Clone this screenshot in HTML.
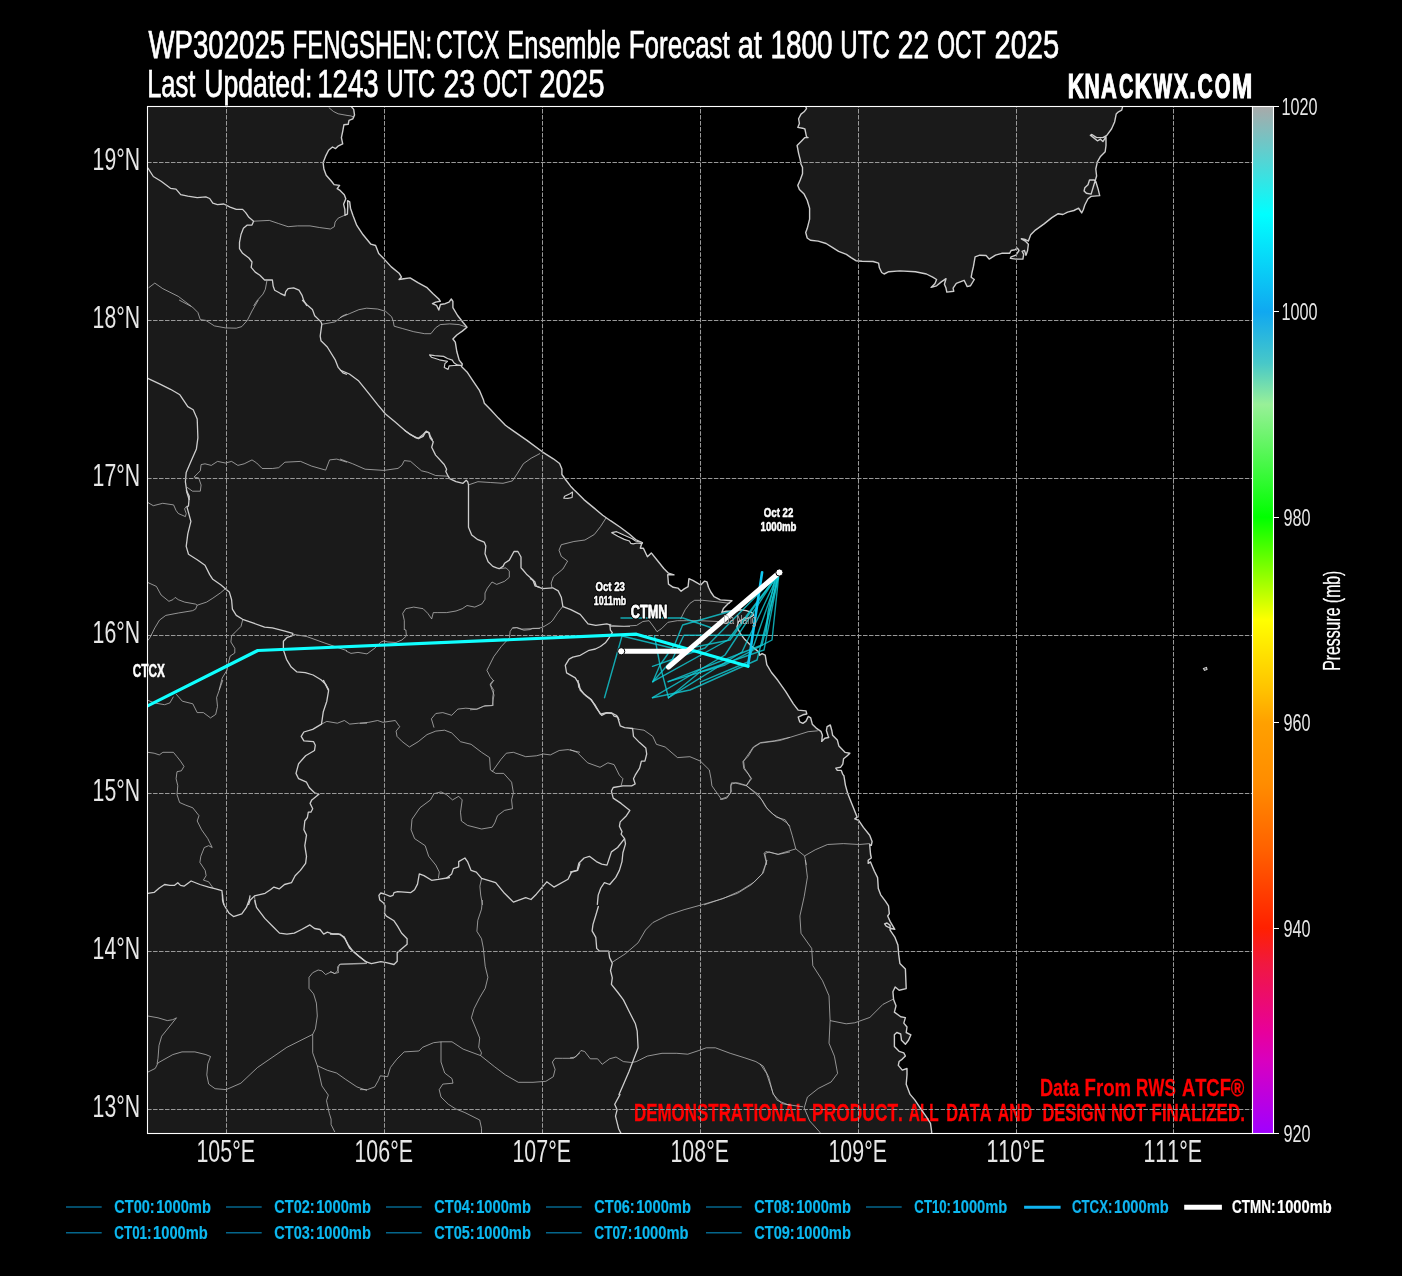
<!DOCTYPE html><html><head><meta charset="utf-8"><style>html,body{margin:0;padding:0;background:#000;width:1402px;height:1276px;overflow:hidden}</style></head><body><svg width="1402" height="1276" viewBox="0 0 1402 1276" style="position:absolute;left:0;top:0;will-change:transform">
<defs><clipPath id="mc"><rect x="147.5" y="106.5" width="1105.0" height="1027.0"/></clipPath>
<linearGradient id="cb" x1="0" y1="0" x2="0" y2="1"><stop offset="0.000" stop-color="#a9a9a9"/><stop offset="0.105" stop-color="#00ffff"/><stop offset="0.200" stop-color="#10a8f0"/><stop offset="0.250" stop-color="#48c8c8"/><stop offset="0.290" stop-color="#98f098"/><stop offset="0.400" stop-color="#00ff00"/><stop offset="0.500" stop-color="#ffff00"/><stop offset="0.570" stop-color="#ffc000"/><stop offset="0.600" stop-color="#ffa000"/><stop offset="0.660" stop-color="#ff8c00"/><stop offset="0.725" stop-color="#ff6000"/><stop offset="0.800" stop-color="#ff2000"/><stop offset="0.835" stop-color="#f01840"/><stop offset="0.900" stop-color="#e8009a"/><stop offset="0.930" stop-color="#d800c0"/><stop offset="1.000" stop-color="#a000ff"/></linearGradient></defs>
<rect x="0" y="0" width="1402" height="1276" fill="#000"/>
<g clip-path="url(#mc)">
<polygon points="140.0,100.0 351.3,100.0 351.3,106.6 353.7,109.4 354.5,114.9 352.9,118.8 349.0,120.4 348.2,124.3 343.9,124.8 342.7,131.3 341.4,137.6 342.7,143.9 338.0,146.2 335.6,148.6 332.5,147.0 328.6,150.2 325.5,156.4 323.1,162.7 323.9,169.0 326.2,175.2 331.7,181.5 334.1,184.6 339.6,185.4 337.2,188.6 339.6,190.1 344.3,194.8 345.8,198.7 343.6,204.2 344.9,209.7 345.0,215.2 347.4,214.1 347.7,206.6 347.6,200.6 349.7,201.9 350.5,208.2 352.9,215.2 356.8,225.4 363.1,234.8 370.9,244.2 375.6,245.5 378.7,253.6 384.2,259.1 391.3,266.9 399.1,273.2 401.5,277.1 399.1,279.5 403.8,278.7 410.1,277.9 417.9,282.6 426.6,287.3 432.8,293.6 438.8,299.0 440.4,301.3 435.7,302.1 432.5,303.7 436.5,305.3 438.8,310.0 440.4,304.5 445.1,303.7 449.0,302.1 451.3,299.0 452.9,301.3 452.9,307.6 457.6,315.5 463.1,322.5 467.0,327.2 462.3,331.1 456.8,335.0 452.9,339.0 455.3,342.1 456.8,351.5 459.2,360.1 462.3,364.0 461.5,366.4 467.0,371.9 473.3,381.3 479.6,390.7 483.5,400.1 484.3,403.2 490.5,409.5 498.4,418.1 505.4,425.2 514.0,431.4 526.6,440.1 542.3,451.8 553.3,458.8 559.6,463.5 561.9,469.0 561.9,474.5 565.9,480.0 570.6,486.2 573.7,489.4 576.1,491.7 583.9,499.6 593.3,507.4 602.7,515.2 610.5,520.7 619.9,527.0 629.3,534.0 635.6,539.5 641.9,542.7 640.3,548.2 643.4,548.2 647.4,556.8 651.3,552.9 657.6,560.7 663.8,568.5 668.5,573.2 674.0,574.8 667.7,574.8 668.5,584.2 673.2,587.3 677.9,588.1 681.1,591.3 684.2,588.9 688.1,586.6 688.9,578.7 692.8,580.3 696.7,582.6 700.7,585.0 704.6,581.1 706.9,581.8 708.5,587.3 710.8,592.0 714.0,596.7 720.3,599.9 732.0,600.7 728.1,603.8 723.4,608.5 721.8,612.4 726.1,611.3 735.5,611.3 740.2,609.8 746.4,610.6 752.7,612.9 753.5,615.3 749.6,617.6 743.3,619.2 738.6,621.5 737.0,627.0 740.2,633.3 744.9,639.6 751.1,645.8 759.0,652.1 759.7,655.2 762.1,653.7 765.2,655.2 766.8,664.6 771.5,672.5 777.8,680.3 785.6,691.3 793.4,703.8 798.2,710.1 806.0,710.9 806.8,714.0 802.9,714.8 798.2,717.1 799.7,721.8 802.9,723.4 806.0,721.1 808.3,716.4 810.7,717.9 812.3,724.2 816.2,728.1 820.9,731.3 822.4,735.2 821.7,741.4 824.8,738.3 828.7,737.5 827.9,735.2 826.4,730.5 827.1,726.6 830.3,725.0 831.8,730.5 832.6,735.2 837.3,739.9 838.9,746.1 842.8,750.1 845.2,752.4 849.9,753.2 846.7,756.3 843.6,758.7 842.8,764.2 840.5,767.3 835.8,768.1 837.3,770.4 841.3,770.4 842.8,774.4 843.9,775.7 845.4,785.1 847.8,793.7 852.5,805.5 857.2,817.2 854.8,818.8 858.7,820.3 863.4,827.4 869.7,835.2 872.1,841.5 871.3,845.4 869.7,844.6 870.5,854.0 871.3,858.0 868.2,860.3 868.2,863.4 870.5,861.9 874.4,871.3 877.6,877.6 878.3,888.5 880.7,894.8 885.4,901.1 888.5,905.8 889.3,913.6 887.7,916.0 890.1,921.4 894.8,929.3 890.9,928.5 886.2,926.1 884.6,923.8 887.0,923.0 890.1,925.4 890.1,930.1 894.8,937.1 897.9,945.0 898.7,954.4 899.9,963.5 905.4,969.0 906.2,988.6 899.1,990.2 895.2,987.0 892.9,991.7 893.6,999.6 896.0,1005.8 894.4,1012.1 900.7,1016.8 905.4,1017.6 903.8,1023.1 907.0,1027.0 906.2,1032.5 910.9,1034.8 908.5,1040.3 905.4,1044.2 901.5,1040.3 900.7,1034.0 896.8,1032.5 894.4,1034.8 894.4,1041.9 894.4,1046.6 899.1,1051.3 903.8,1052.9 905.4,1056.0 902.3,1059.1 899.1,1061.5 898.3,1065.4 902.3,1070.1 907.0,1068.5 907.0,1074.8 906.2,1084.2 910.1,1094.4 914.8,1099.9 921.1,1109.3 926.6,1117.1 930.5,1123.4 931.7,1132.0 931.4,1134.4 931.4,1140.0 140.0,1140.0" fill="#1a1a1a"/>
<polygon points="805.7,104.7 805.7,106.6 806.5,108.6 804.1,111.8 801.0,114.1 798.6,118.8 799.4,123.5 797.8,127.4 802.5,128.2 804.9,129.0 805.7,132.9 806.5,136.8 808.0,137.6 804.9,137.6 801.8,140.8 797.1,145.5 798.6,153.3 800.2,159.6 801.0,164.3 802.5,167.4 802.5,173.7 800.2,180.0 797.8,185.4 799.4,189.4 804.1,194.1 807.2,200.3 809.6,208.2 809.6,219.2 807.2,228.6 805.7,232.5 807.2,238.0 810.4,240.3 818.2,241.1 826.1,243.5 832.3,247.4 838.6,251.3 846.4,254.4 851.1,257.6 855.9,260.7 862.1,261.2 873.1,261.5 878.6,263.1 879.4,267.8 881.7,272.5 884.1,274.0 888.8,271.7 899.8,270.9 915.4,271.7 926.4,274.0 932.7,277.2 936.6,279.5 935.0,283.4 931.1,287.4 936.6,285.8 941.3,281.9 946.0,278.7 944.4,284.2 946.0,288.1 946.8,292.1 953.8,291.3 953.1,288.1 956.3,283.4 964.1,280.3 967.2,286.6 970.4,285.8 974.3,279.5 971.2,277.2 972.0,272.5 973.5,266.2 975.1,256.8 979.8,255.2 986.1,255.5 989.2,259.1 995.5,255.2 1001.7,253.3 1009.6,253.3 1011.1,250.5 1015.1,249.7 1017.4,248.2 1019.0,250.5 1015.9,255.2 1011.1,256.8 1010.4,258.4 1015.9,259.1 1022.9,259.1 1023.7,254.4 1022.1,251.3 1024.5,250.5 1026.0,255.2 1027.6,250.5 1028.4,244.2 1025.3,241.1 1021.3,238.8 1025.3,239.5 1028.4,241.1 1030.7,234.8 1035.4,230.1 1044.1,223.9 1051.9,217.6 1058.2,213.7 1062.9,214.5 1067.6,212.1 1073.9,210.5 1078.6,208.2 1080.1,210.5 1081.7,212.9 1083.3,209.8 1084.8,205.0 1088.0,198.8 1091.1,196.4 1099.7,195.6 1098.2,189.4 1095.8,181.5 1094.2,180.0 1089.5,180.0 1088.0,184.7 1084.8,187.8 1084.1,190.9 1086.4,193.3 1091.1,194.1 1096.6,176.0 1095.8,169.0 1097.4,161.9 1100.5,156.4 1105.2,151.7 1106.0,145.5 1106.0,136.8 1102.9,141.5 1100.5,139.2 1097.4,140.8 1093.5,137.6 1090.3,135.3 1091.9,134.5 1096.6,137.6 1102.9,137.6 1106.8,135.3 1111.5,129.0 1114.6,122.0 1116.2,114.1 1118.5,111.8 1121.7,110.2 1122.5,107.1 1122.5,104.7" fill="#1a1a1a"/>
</g>
<text x="1040.04" y="1095.55" textLength="39.19" lengthAdjust="spacingAndGlyphs" style='font-family:"Liberation Sans",sans-serif;font-kerning:none;font-weight:bold;font-size:24.42px' fill="#ff0000" stroke="#ff0000" stroke-width="0.30">Data</text>
<text x="1084.50" y="1095.55" textLength="46.60" lengthAdjust="spacingAndGlyphs" style='font-family:"Liberation Sans",sans-serif;font-kerning:none;font-weight:bold;font-size:24.42px' fill="#ff0000" stroke="#ff0000" stroke-width="0.30">From</text>
<text x="1136.01" y="1095.55" textLength="39.81" lengthAdjust="spacingAndGlyphs" style='font-family:"Liberation Sans",sans-serif;font-kerning:none;font-weight:bold;font-size:24.42px' fill="#ff0000" stroke="#ff0000" stroke-width="0.30">RWS</text>
<text x="1181.89" y="1095.55" textLength="62.54" lengthAdjust="spacingAndGlyphs" style='font-family:"Liberation Sans",sans-serif;font-kerning:none;font-weight:bold;font-size:24.42px' fill="#ff0000" stroke="#ff0000" stroke-width="0.30">ATCF®</text>
<text x="633.92" y="1121.25" textLength="172.25" lengthAdjust="spacingAndGlyphs" style='font-family:"Liberation Sans",sans-serif;font-kerning:none;font-weight:bold;font-size:24.42px' fill="#ff0000" stroke="#ff0000" stroke-width="0.30">DEMONSTRATIONAL</text>
<text x="812.09" y="1121.25" textLength="90.86" lengthAdjust="spacingAndGlyphs" style='font-family:"Liberation Sans",sans-serif;font-kerning:none;font-weight:bold;font-size:24.42px' fill="#ff0000" stroke="#ff0000" stroke-width="0.30">PRODUCT.</text>
<text x="908.77" y="1121.25" textLength="29.96" lengthAdjust="spacingAndGlyphs" style='font-family:"Liberation Sans",sans-serif;font-kerning:none;font-weight:bold;font-size:24.42px' fill="#ff0000" stroke="#ff0000" stroke-width="0.30">ALL</text>
<text x="946.16" y="1121.25" textLength="45.32" lengthAdjust="spacingAndGlyphs" style='font-family:"Liberation Sans",sans-serif;font-kerning:none;font-weight:bold;font-size:24.42px' fill="#ff0000" stroke="#ff0000" stroke-width="0.30">DATA</text>
<text x="997.76" y="1121.25" textLength="34.36" lengthAdjust="spacingAndGlyphs" style='font-family:"Liberation Sans",sans-serif;font-kerning:none;font-weight:bold;font-size:24.42px' fill="#ff0000" stroke="#ff0000" stroke-width="0.30">AND</text>
<text x="1042.45" y="1121.25" textLength="63.11" lengthAdjust="spacingAndGlyphs" style='font-family:"Liberation Sans",sans-serif;font-kerning:none;font-weight:bold;font-size:24.42px' fill="#ff0000" stroke="#ff0000" stroke-width="0.30">DESIGN</text>
<text x="1110.95" y="1121.25" textLength="34.78" lengthAdjust="spacingAndGlyphs" style='font-family:"Liberation Sans",sans-serif;font-kerning:none;font-weight:bold;font-size:24.42px' fill="#ff0000" stroke="#ff0000" stroke-width="0.30">NOT</text>
<text x="1151.51" y="1121.25" textLength="93.41" lengthAdjust="spacingAndGlyphs" style='font-family:"Liberation Sans",sans-serif;font-kerning:none;font-weight:bold;font-size:24.42px' fill="#ff0000" stroke="#ff0000" stroke-width="0.30">FINALIZED.</text>
<g clip-path="url(#mc)">
<polyline points="253.6,221.2 269.3,220.4 278.7,223.6 288.1,226.7 297.5,225.9 310.0,225.9 319.4,227.5 330.4,229.0 334.3,226.7 335.1,222.0 338.2,218.1 343.7,215.7 346.1,214.9" fill="none" stroke="#c8c8c8" stroke-width="0.7" stroke-linejoin="round"/>
<polyline points="328.8,107.6 333.5,111.5 338.2,113.8 347.0,115.4 350.8,115.9 354.2,117.1" fill="none" stroke="#c8c8c8" stroke-width="0.7" stroke-linejoin="round"/>
<polyline points="148.6,287.8 154.8,283.1 162.7,288.6 178.3,296.4 190.9,306.0" fill="none" stroke="#c8c8c8" stroke-width="0.7" stroke-linejoin="round"/>
<polyline points="266.9,280.8 265.3,289.4 263.0,294.1 256.7,301.1 253.6,306.0" fill="none" stroke="#c8c8c8" stroke-width="0.7" stroke-linejoin="round"/>
<polyline points="179.1,300.0 192.5,307.1 197.9,312.5 200.3,319.6 205.8,320.4 214.4,325.9 225.4,327.9 236.3,328.2 241.8,326.6 247.3,320.4 252.0,311.0 258.3,300.0" fill="none" stroke="#c8c8c8" stroke-width="0.7" stroke-linejoin="round"/>
<polyline points="321.8,324.3 335.1,321.9 342.9,315.7 347.0,314.1" fill="none" stroke="#c8c8c8" stroke-width="0.7" stroke-linejoin="round"/>
<polyline points="187.0,487.3 192.5,491.2 200.3,491.2 201.1,485.0 198.7,477.9 194.0,477.1 200.3,470.8 201.1,464.6 205.0,463.8 211.3,465.4 217.5,461.4 225.4,463.0 231.6,461.4 237.9,465.4 244.2,463.8 252.0,459.9 256.7,463.0 262.2,468.5 272.4,468.5 278.7,467.7 284.9,462.2 300.6,461.4 311.6,466.1 325.7,470.1 329.6,459.9 336.7,459.1 347.0,462.2" fill="none" stroke="#c8c8c8" stroke-width="0.7" stroke-linejoin="round"/>
<polyline points="340.0,317.6 349.4,313.7 358.8,309.7 366.6,308.2 377.6,309.0 385.5,311.3 391.7,316.8 393.3,321.5 394.1,326.2 402.7,328.6 413.7,331.7 424.6,333.7 430.9,333.7 435.6,327.8 440.3,324.6 449.7,323.9 459.1,324.6 466.2,327.0" fill="none" stroke="#c8c8c8" stroke-width="0.7" stroke-linejoin="round"/>
<polyline points="225.4,588.7 220.7,592.7 212.8,598.2 206.6,602.1 197.2,605.2 195.6,609.1 192.5,610.7 178.3,613.0 165.8,615.4 159.5,620.1 154.8,627.9 150.1,637.3 147.8,640.5" fill="none" stroke="#c8c8c8" stroke-width="0.7" stroke-linejoin="round"/>
<polyline points="147.8,582.5 156.4,586.4 161.1,595.0 168.9,601.3 172.9,599.7 175.2,597.4 178.3,599.7 184.6,602.1 195.6,604.1 197.2,605.2" fill="none" stroke="#c8c8c8" stroke-width="0.7" stroke-linejoin="round"/>
<polyline points="147.8,502.5 153.3,505.7 162.7,503.3 173.6,504.9 176.0,510.4 178.3,513.5 185.4,516.6 186.2,513.5 184.6,508.8 187.0,505.7" fill="none" stroke="#c8c8c8" stroke-width="0.7" stroke-linejoin="round"/>
<polyline points="242.6,620.1 241.0,626.4 236.3,631.1 231.6,635.8 230.9,642.0 234.8,648.3 234.8,653.0 230.1,656.1 228.5,662.4 226.9,670.3 222.2,678.1 219.1,690.0" fill="none" stroke="#c8c8c8" stroke-width="0.7" stroke-linejoin="round"/>
<polyline points="292.8,634.2 306.9,636.6 324.1,642.8 347.0,650.7" fill="none" stroke="#c8c8c8" stroke-width="0.7" stroke-linejoin="round"/>
<polyline points="340.0,459.0 352.5,463.7 365.1,469.2 383.9,470.4 398.0,468.4 401.9,465.3 404.3,460.6 410.5,461.3 416.8,466.8 421.5,470.8 427.8,472.3 435.6,475.5 448.2,476.2" fill="none" stroke="#c8c8c8" stroke-width="0.7" stroke-linejoin="round"/>
<polyline points="468.5,484.9 477.9,481.7 490.5,482.5 503.0,483.3 512.4,480.9 517.1,473.9 523.4,463.7 531.2,458.2 540.0,453.5" fill="none" stroke="#c8c8c8" stroke-width="0.7" stroke-linejoin="round"/>
<polyline points="499.1,568.7 506.1,567.9 509.3,571.1 509.3,577.3 504.6,581.3 496.7,584.4 492.0,582.0 487.3,588.3 485.0,593.0 485.0,599.3 481.8,604.0 474.8,607.1 467.0,605.5 462.3,608.7 456.0,611.0 446.6,612.6 437.2,612.6 433.3,612.6 431.7,618.9 427.8,613.4 423.1,608.7 413.7,607.1 405.8,608.7 402.7,613.4 404.3,620.4 404.3,630.0" fill="none" stroke="#c8c8c8" stroke-width="0.7" stroke-linejoin="round"/>
<polyline points="512.4,628.3 517.1,627.5 521.8,629.1 540.0,628.3" fill="none" stroke="#c8c8c8" stroke-width="0.7" stroke-linejoin="round"/>
<polyline points="606.0,518.0 600.5,526.6 594.3,534.5 584.9,540.0 573.9,541.5 561.3,544.7 559.0,550.2 561.3,556.4 567.6,561.1 562.9,569.0 553.5,576.8 551.2,583.1 551.9,587.8" fill="none" stroke="#c8c8c8" stroke-width="0.7" stroke-linejoin="round"/>
<polyline points="611.5,625.4 624.0,626.2 636.6,625.4 642.9,621.5 649.1,620.7 653.8,627.0 657.0,631.7 661.7,628.5 667.9,622.3 677.3,620.7 686.7,620.7 700.1,620.7 718.1,621.5 730.0,622.3" fill="none" stroke="#c8c8c8" stroke-width="0.7" stroke-linejoin="round"/>
<polyline points="680.5,619.1 685.2,609.7 689.9,603.4 694.6,600.3 702.4,600.3 718.1,601.9 730.0,603.4" fill="none" stroke="#c8c8c8" stroke-width="0.7" stroke-linejoin="round"/>
<polyline points="254.5,895.9 255.4,904.9" fill="none" stroke="#c8c8c8" stroke-width="0.7" stroke-linejoin="round"/>
<polyline points="321.5,724.1 326.8,721.4 337.4,723.2 344.4,720.5 349.7,724.1 358.5,723.2 367.0,723.2" fill="none" stroke="#c8c8c8" stroke-width="0.7" stroke-linejoin="round"/>
<polyline points="147.9,752.3 154.1,753.2 159.3,754.9 162.9,752.3 173.4,752.3 177.0,756.7 180.5,761.1 184.0,766.4 181.4,770.8 177.0,771.7 176.1,778.7 177.8,785.8 177.0,794.6 179.6,802.5 185.8,805.2 192.8,807.8 199.0,815.7 197.2,821.0 201.6,829.8 207.8,838.6 212.2,847.5 208.7,845.7 204.3,847.5 200.8,856.3 199.9,862.4 205.2,870.4 206.1,875.7 203.4,880.1 208.7,881.8 213.1,888.0" fill="none" stroke="#c8c8c8" stroke-width="0.7" stroke-linejoin="round"/>
<polyline points="147.9,700.3 154.1,702.9 164.6,704.7 169.9,702.9 173.4,696.7" fill="none" stroke="#c8c8c8" stroke-width="0.7" stroke-linejoin="round"/>
<polyline points="176.1,694.1 182.3,701.2 192.8,703.8 197.2,712.6 203.4,712.6 210.5,717.9 215.7,714.4 217.5,706.4 216.6,697.6 221.0,685.3 222.8,680.0" fill="none" stroke="#c8c8c8" stroke-width="0.7" stroke-linejoin="round"/>
<polyline points="360.0,723.2 368.8,722.3 377.6,720.5 382.9,722.3 395.3,720.5 399.7,726.7 396.1,731.1 397.0,736.4 402.3,741.7 409.4,747.0 418.2,741.7 427.0,734.6 435.8,731.1 444.6,730.2 451.7,732.9 460.5,741.7 471.1,744.3 481.6,752.3 489.6,757.6 490.4,769.9 495.7,773.4 503.7,773.4 511.6,782.2 513.4,792.8 511.6,799.9 512.5,808.7 504.5,810.4 497.5,815.7 494.8,822.8 492.2,827.2 481.6,829.0 467.5,825.4 461.4,821.0 460.5,812.2 462.2,799.9 458.7,796.3 452.5,799.9 446.4,794.6 441.1,791.9 434.0,793.7 430.5,799.9 419.9,807.8 412.0,819.3 411.1,829.8 414.6,838.6 425.2,845.7 428.7,856.3 435.8,865.1 439.3,872.1 438.4,878.3" fill="none" stroke="#c8c8c8" stroke-width="0.7" stroke-linejoin="round"/>
<polyline points="434.0,727.6 431.4,718.8 435.8,713.5 442.8,712.6 451.7,715.3 457.8,709.1 465.8,708.2 476.3,709.1 483.4,706.4 492.2,705.6 494.0,695.0 490.4,685.3 494.0,680.0" fill="none" stroke="#c8c8c8" stroke-width="0.7" stroke-linejoin="round"/>
<polyline points="492.2,771.7 501.0,759.3 506.3,753.2 513.4,752.3 525.7,756.7 536.3,755.8 543.3,754.0 550.4,754.9 559.2,750.5 568.0,749.6 580.0,752.3" fill="none" stroke="#c8c8c8" stroke-width="0.7" stroke-linejoin="round"/>
<polyline points="481.6,878.3 479.9,886.2 480.7,895.1 482.5,904.9" fill="none" stroke="#c8c8c8" stroke-width="0.7" stroke-linejoin="round"/>
<polyline points="570.0,749.6 577.1,752.3 587.6,762.8 600.0,767.3 607.9,762.8 614.1,764.6 619.4,775.2 622.9,778.7 621.1,785.8" fill="none" stroke="#c8c8c8" stroke-width="0.7" stroke-linejoin="round"/>
<polyline points="632.6,728.5 644.0,730.2 652.8,736.4 656.4,744.3 665.2,747.0 677.5,757.6 689.9,756.7 700.4,761.1 709.3,769.9 711.0,778.7 711.9,785.8 718.1,794.6 721.6,799.5 726.9,798.1 730.4,792.8 731.3,784.0 735.7,783.1 746.3,785.8 751.6,778.7 744.5,768.1 743.6,761.1 753.3,747.0 760.4,742.6 774.5,740.8 790.0,737.3" fill="none" stroke="#c8c8c8" stroke-width="0.7" stroke-linejoin="round"/>
<polyline points="746.3,785.8 758.6,794.6 765.7,806.9 772.7,814.0 781.5,819.3 786.8,822.8 790.0,826.3" fill="none" stroke="#c8c8c8" stroke-width="0.7" stroke-linejoin="round"/>
<polyline points="704.0,904.9 719.8,899.5 737.5,893.3 751.6,884.5 762.1,873.9 766.5,861.6 764.8,853.6 769.2,851.9 778.0,854.5 790.0,851.9" fill="none" stroke="#c8c8c8" stroke-width="0.7" stroke-linejoin="round"/>
<polyline points="817.8,730.8 808.1,731.7 794.0,736.1 779.9,740.5 760.5,743.1 753.5,747.5 748.2,756.3 742.9,761.6 743.8,768.7 748.2,774.0 750.8,778.4 746.4,785.4 737.6,782.8 731.5,782.8 730.6,786.3 731.5,791.6 727.1,796.9 720.0,799.5" fill="none" stroke="#c8c8c8" stroke-width="0.7" stroke-linejoin="round"/>
<polyline points="746.4,785.4 755.3,793.4 762.3,800.4 767.6,809.2 776.4,817.2 785.2,819.8 789.6,826.8 792.3,835.7 795.8,848.9 804.6,855.9 806.4,864.9" fill="none" stroke="#c8c8c8" stroke-width="0.7" stroke-linejoin="round"/>
<polyline points="795.8,848.9 778.2,854.2 765.8,851.5 764.1,853.3 766.7,864.9" fill="none" stroke="#c8c8c8" stroke-width="0.7" stroke-linejoin="round"/>
<polyline points="804.6,855.9 815.2,849.8 827.5,844.5 843.4,843.6 859.3,844.5 869.8,843.6" fill="none" stroke="#c8c8c8" stroke-width="0.7" stroke-linejoin="round"/>
<polyline points="367.0,963.5 353.2,964.1 339.4,964.4 337.5,970.9 334.8,973.6 331.1,971.8 325.6,974.6 321.9,970.9 318.2,970.0 312.7,972.7 309.0,977.3 309.0,988.4 313.6,993.9 316.4,1003.1 317.3,1016.0 315.4,1028.9 312.7,1034.4 312.7,1052.8 317.3,1065.7 321.9,1085.9 328.3,1095.1 326.5,1100.7 329.3,1113.5 331.1,1119.1 331.1,1124.6 334.8,1132.0" fill="none" stroke="#c8c8c8" stroke-width="0.7" stroke-linejoin="round"/>
<polyline points="312.7,1034.4 286.9,1047.3 257.5,1067.5 240.9,1083.2 226.2,1089.6 215.1,1088.7 208.7,1084.1 206.8,1074.9 207.8,1063.8 210.5,1056.5 205.9,1054.6 194.9,1051.9 182.0,1051.9 172.8,1054.6 158.0,1062.9 155.3,1068.4 147.9,1072.1" fill="none" stroke="#c8c8c8" stroke-width="0.7" stroke-linejoin="round"/>
<polyline points="147.9,1016.0 158.0,1017.8 167.3,1020.6 172.8,1019.7 176.5,1017.8 169.1,1027.0 161.7,1036.2 159.0,1045.4 158.0,1058.3 157.1,1063.8" fill="none" stroke="#c8c8c8" stroke-width="0.7" stroke-linejoin="round"/>
<polyline points="317.3,1065.7 327.4,1070.3 336.6,1073.0 345.8,1079.5 356.9,1086.9 367.0,1090.5" fill="none" stroke="#c8c8c8" stroke-width="0.7" stroke-linejoin="round"/>
<polyline points="365.7,963.1 340.3,964.0 337.5,966.9 338.5,972.5 334.7,973.5 330.0,971.6" fill="none" stroke="#c8c8c8" stroke-width="0.7" stroke-linejoin="round"/>
<polyline points="482.4,900.0 481.5,909.2 477.8,920.3 476.9,931.3 481.5,938.7 483.3,947.9 485.2,966.3 487.9,977.3 485.2,988.4 479.7,997.6 474.1,1008.6 471.4,1017.8 476.0,1028.9 479.7,1038.1 478.7,1047.3 481.5,1052.8 480.6,1055.6" fill="none" stroke="#c8c8c8" stroke-width="0.7" stroke-linejoin="round"/>
<polyline points="360.0,1089.6 367.4,1089.6 374.7,1086.9 378.4,1080.4 380.3,1075.8 387.6,1076.7 390.4,1067.5 396.8,1059.2 404.2,1051.9 418.9,1051.0 422.6,1047.3 433.6,1042.7 441.0,1041.8 452.0,1041.8 463.1,1049.1 480.6,1055.6 494.4,1066.6 505.4,1074.9 518.3,1082.3 533.0,1082.3 545.9,1081.3 553.3,1076.7 555.1,1069.4 552.4,1062.0 555.1,1058.3 562.5,1058.3 573.5,1058.3 580.0,1052.8" fill="none" stroke="#c8c8c8" stroke-width="0.7" stroke-linejoin="round"/>
<polyline points="441.0,1041.8 441.0,1062.0 444.7,1073.0 452.0,1078.6 453.0,1083.2 442.8,1084.1 439.2,1089.6 441.0,1097.0 448.4,1104.3 455.7,1108.9 464.9,1112.6 479.7,1120.0 481.5,1128.3 481.5,1134.9" fill="none" stroke="#c8c8c8" stroke-width="0.7" stroke-linejoin="round"/>
<polyline points="612.3,962.2 625.2,953.9 638.1,942.8 645.5,930.0 652.8,922.6 667.6,915.2 684.1,909.7 700.7,905.1 722.8,898.7 739.4,891.3 754.1,882.1 763.3,872.9 767.0,860.0" fill="none" stroke="#c8c8c8" stroke-width="0.7" stroke-linejoin="round"/>
<polyline points="570.0,1057.9 575.5,1057.0 581.0,1050.5 584.7,1051.5 590.3,1058.8 597.6,1058.8 602.2,1064.3 609.6,1058.8 616.0,1057.0 623.4,1061.6 631.7,1062.5 636.3,1061.6 647.3,1056.1 662.0,1053.3 676.8,1053.3 687.8,1054.2 698.9,1050.5 706.2,1047.8 715.4,1047.8 730.2,1053.3 744.9,1057.9 755.9,1061.6 763.3,1066.2 768.8,1077.2 773.4,1094.9" fill="none" stroke="#c8c8c8" stroke-width="0.7" stroke-linejoin="round"/>
<polyline points="773.7,1094.8 781.8,1103.6 790.0,1105.1" fill="none" stroke="#c8c8c8" stroke-width="0.7" stroke-linejoin="round"/>
<polyline points="805.3,860.0 807.4,877.2 804.2,896.6 799.9,916.0 801.0,933.3 811.7,948.4 812.8,965.6 822.5,980.7 829.0,995.8 830.1,1020.6 829.0,1043.2 834.4,1056.2 837.6,1073.4 831.1,1082.0 818.2,1088.5 807.4,1097.1 804.2,1107.9 809.6,1120.8 819.3,1131.6 822.5,1135.9" fill="none" stroke="#c8c8c8" stroke-width="0.7" stroke-linejoin="round"/>
<polyline points="830.1,1020.6 846.2,1023.8 854.8,1022.8 869.9,1017.4 882.9,1004.4 893.6,999.0" fill="none" stroke="#c8c8c8" stroke-width="0.7" stroke-linejoin="round"/>
<polyline points="760.0,1063.7 766.5,1073.4 772.9,1092.8 777.2,1100.4 788.0,1104.7 803.1,1106.8" fill="none" stroke="#c8c8c8" stroke-width="0.7" stroke-linejoin="round"/>
<polyline points="562.8,606.4 557.8,612.7 552.8,620.2 550.3,622.7 544.0,626.5 539.0,628.3 532.7,628.3 530.2,629.6 523.9,630.2 516.4,627.7 512.6,627.7 510.1,631.5 509.5,637.7 501.3,646.5 493.8,656.6 488.8,666.6 486.9,670.3 490.1,676.6 493.2,680.4 490.1,684.1 493.8,690.4 492.6,697.9 493.2,705.5 485.0,705.5 477.5,709.2 470.0,709.8" fill="none" stroke="#c8c8c8" stroke-width="0.7" stroke-linejoin="round"/>
<polyline points="610.4,626.5 630.0,626.5" fill="none" stroke="#c8c8c8" stroke-width="0.7" stroke-linejoin="round"/>
<polyline points="404.4,629.5 405.9,630.0 406.4,636.0 401.9,640.0 395.9,642.5 387.9,642.0 383.9,641.0 380.9,642.0 375.0,648.0 367.0,653.9 358.0,652.4 351.0,653.4 346.0,651.0" fill="none" stroke="#c8c8c8" stroke-width="0.7" stroke-linejoin="round"/>
<polyline points="147.8,167.9 153.3,176.5 161.1,181.2 170.5,188.3 176.0,189.1 180.7,194.6 187.8,196.1 197.2,197.7 205.8,196.9 209.7,198.5 212.8,203.2 217.5,204.7 223.8,204.0 230.1,207.1 236.3,209.4 242.6,209.4 245.7,212.6 248.9,217.3 253.6,221.2 252.0,225.1 247.3,225.1 243.4,228.3 241.0,234.5 239.5,242.4 239.5,248.6 242.6,253.3 248.9,258.0 252.0,262.0 251.2,267.4 255.2,272.1 259.9,275.3 264.6,280.0 272.4,280.0 273.2,286.3 274.7,290.2 280.2,293.3 284.9,295.7 285.7,291.7 288.1,288.6 293.6,287.8 299.0,290.2 302.2,295.7 303.7,300.4 306.9,306.0" fill="none" stroke="#cdcdcd" stroke-width="1.3" stroke-linejoin="round"/>
<polyline points="302.2,300.0 306.9,304.7 312.4,309.4 314.7,315.7 321.0,321.9 321.8,324.3 320.2,336.1 321.0,340.8 327.3,347.0 335.1,359.6 338.2,367.4 342.9,372.9 347.0,374.5" fill="none" stroke="#cdcdcd" stroke-width="1.3" stroke-linejoin="round"/>
<polyline points="147.8,378.4 159.5,383.9 170.5,389.3 179.9,394.8 187.8,406.6 193.2,409.7 197.2,419.1 197.9,437.9 196.4,448.9 190.9,461.4 186.2,472.4 185.4,481.8 187.0,492.8 189.3,500.0" fill="none" stroke="#cdcdcd" stroke-width="1.3" stroke-linejoin="round"/>
<polyline points="340.0,370.1 349.4,374.0 358.8,381.1 365.1,388.9 371.3,396.7 377.6,404.6 385.5,414.0 394.9,421.8 405.8,431.2 415.2,437.5 418.4,438.3 423.1,434.4 426.2,431.2 429.3,432.8 430.1,435.9 432.5,440.0" fill="none" stroke="#cdcdcd" stroke-width="1.3" stroke-linejoin="round"/>
<polyline points="186.2,490.0 189.3,496.3 188.5,505.7 187.0,507.2 190.9,521.3 187.8,533.9 186.2,546.4 188.5,554.3 197.2,559.7 205.0,565.2 209.7,574.6 212.8,579.3 220.7,584.8 225.4,588.7 229.3,591.9 231.6,599.7 232.4,609.1 236.3,615.4 242.6,619.3 253.6,623.2 264.6,627.1 272.4,627.9 284.9,631.1 292.8,633.4 292.0,635.8 287.3,637.3 283.4,641.3 283.4,649.9 286.5,659.3 291.2,667.1 296.7,671.8 305.3,672.6 313.1,675.0 321.0,679.7 325.7,684.4 328.8,690.0" fill="none" stroke="#cdcdcd" stroke-width="1.3" stroke-linejoin="round"/>
<polyline points="404.3,430.0 410.5,434.7 418.4,438.6 423.1,436.3 425.4,432.4 428.6,432.4 430.1,437.8 433.3,441.8 431.7,447.2 435.6,455.1 444.2,464.5 446.6,469.2 445.8,471.5 448.2,476.2 449.7,478.6 456.0,481.7 463.0,483.3 466.2,480.2 467.7,481.7 468.5,484.9 468.5,527.2 471.7,535.0 477.9,539.7 484.2,542.1 485.8,546.0 485.0,553.8 488.1,561.7 492.8,566.4 496.7,567.9 499.1,568.7 503.0,566.4 504.6,563.2 509.3,560.1 514.0,551.5 517.9,551.5 521.0,557.0 521.0,567.9 522.6,569.5 526.5,574.2 532.8,579.7 535.1,586.0 540.0,587.5" fill="none" stroke="#cdcdcd" stroke-width="1.3" stroke-linejoin="round"/>
<polyline points="530.0,578.4 534.7,581.5 536.3,586.2 542.5,588.6 552.7,587.8 558.2,590.9 561.3,597.2 562.9,606.6 570.8,609.7 580.2,614.4 588.0,623.8 595.8,625.4 606.8,623.8 611.5,625.4" fill="none" stroke="#cdcdcd" stroke-width="1.3" stroke-linejoin="round"/>
<polyline points="323.3,680.0 328.6,690.6 326.8,701.2 323.3,711.7 321.5,724.1 312.7,729.4 303.9,732.0 301.2,736.4 303.9,740.8 313.6,741.7 315.3,745.2 314.5,750.5 305.6,755.8 298.6,763.7 296.0,773.4 298.6,778.7 306.5,782.2 309.2,787.5 314.5,792.8 318.9,794.2 311.8,799.9 310.1,803.4 312.7,808.7 310.9,812.2 308.3,812.2 307.4,817.5 304.8,821.0 303.9,829.8 306.5,835.1 304.8,845.7 306.5,856.3 305.6,863.3 300.4,870.4 295.1,875.7 291.5,882.7 284.5,884.5 279.2,888.9 273.9,887.1 270.4,889.8 265.1,893.3 254.5,895.9 250.1,900.3 248.4,904.9" fill="none" stroke="#cdcdcd" stroke-width="1.3" stroke-linejoin="round"/>
<polyline points="147.9,893.3 154.1,892.4 159.3,888.0 164.6,884.5 169.9,885.4 174.3,885.4 177.8,882.7 180.5,885.4 184.0,886.2 191.1,881.0 199.9,884.5 208.7,887.1 215.7,888.9 221.9,890.6 222.8,898.6 223.7,904.9" fill="none" stroke="#cdcdcd" stroke-width="1.3" stroke-linejoin="round"/>
<polyline points="446.4,878.3 451.7,873.9 453.4,868.6 458.7,866.8 458.7,861.6 464.9,858.0 467.5,861.6 471.1,870.4 476.3,872.1 481.6,878.3 495.7,882.7 504.5,893.3 513.4,902.1 525.7,897.7 531.0,899.5 536.3,894.2 546.8,881.8 553.9,887.1 568.0,879.2 571.5,872.1 577.7,870.4 580.0,863.3" fill="none" stroke="#cdcdcd" stroke-width="1.3" stroke-linejoin="round"/>
<polyline points="577.9,680.0 578.8,687.1 584.1,694.1 591.2,699.4 596.4,708.2 601.7,715.3 607.0,712.6 612.3,713.5 614.1,716.1 617.6,717.0 620.2,725.8 624.6,727.6 632.6,728.5 633.5,736.4 639.6,742.6 645.8,747.9 646.7,754.0 644.9,761.1 641.4,761.1 639.6,768.1 635.2,775.2 633.5,778.7 635.2,784.0 631.7,785.8 622.9,785.8 613.2,787.5 611.4,791.1 613.2,798.1 621.1,803.4 629.9,810.4 626.4,815.7 620.2,821.9 619.4,826.3 622.0,831.6 621.1,834.2 624.6,838.6 625.5,843.9 622.9,852.7 622.0,861.6 619.4,870.4 615.8,877.4 609.7,884.5 604.4,882.7 600.8,888.0 598.2,895.1 597.3,904.9" fill="none" stroke="#cdcdcd" stroke-width="1.3" stroke-linejoin="round"/>
<polyline points="624.6,838.6 617.6,847.5 611.4,851.9 608.8,859.8 607.0,865.1 601.7,864.2 596.4,861.6 589.4,856.3 584.1,858.0 578.8,863.3 577.1,870.4 570.0,872.1" fill="none" stroke="#cdcdcd" stroke-width="1.3" stroke-linejoin="round"/>
<polyline points="222.5,894.5 222.5,900.0 224.3,905.5 228.9,912.9 233.5,916.6 241.8,913.8 246.4,907.4 249.2,900.0 250.1,895.4" fill="none" stroke="#cdcdcd" stroke-width="1.3" stroke-linejoin="round"/>
<polyline points="254.7,900.0 256.5,907.4 264.8,918.4 273.1,926.7 279.5,933.1 286.9,934.1 294.3,933.1 301.6,929.5 309.9,924.9 314.5,928.5 320.0,929.5 323.7,934.1 327.4,932.2 332.9,934.1 340.3,934.1 344.9,938.7 349.5,947.9 358.7,956.1 367.0,962.6" fill="none" stroke="#cdcdcd" stroke-width="1.3" stroke-linejoin="round"/>
<polyline points="330.0,934.0 338.5,934.0 344.1,936.8 347.9,944.3 352.6,950.9 359.2,956.5 365.7,961.7 371.4,963.6 380.8,961.7 386.4,962.6 394.0,964.5 397.2,961.2 397.2,952.8 401.5,949.0 407.1,944.3 407.1,938.7 401.5,933.0 397.7,926.4 394.0,920.8 386.4,916.1 384.5,913.3 385.0,905.7 383.6,902.9 379.8,900.1 378.9,895.4 380.8,893.0 384.5,894.0 390.2,896.3 393.0,895.4 394.0,892.6 397.7,891.6 410.9,892.6 414.6,889.7 417.5,884.1 419.3,873.8 424.0,875.6 431.6,880.3 438.2,879.4 450.0,877.5" fill="none" stroke="#cdcdcd" stroke-width="1.3" stroke-linejoin="round"/>
<polyline points="598.5,906.0 595.8,915.2 593.0,924.4 592.1,930.9 595.8,937.3 596.7,948.4 599.5,951.1 608.7,951.1 609.6,957.6 612.3,963.1 610.5,970.5 612.3,977.8 611.4,984.3 617.9,992.5 623.4,999.9 628.9,1011.0 635.4,1023.8 637.2,1031.2 638.1,1047.8 633.5,1059.7 628.9,1071.7 623.4,1084.6 618.8,1094.9" fill="none" stroke="#cdcdcd" stroke-width="1.3" stroke-linejoin="round"/>
<polyline points="620.2,1094.1 614.7,1104.3 617.1,1109.8 615.5,1116.1 618.6,1128.7 621.0,1133.4" fill="none" stroke="#cdcdcd" stroke-width="1.3" stroke-linejoin="round"/>
<polyline points="609.8,623.9 610.4,630.2 612.3,632.7 609.2,637.7 605.4,642.8 600.4,646.5 595.4,649.0 589.1,650.3 580.3,655.3 572.8,657.2 569.1,659.1 565.3,665.3 566.6,672.9 575.3,677.9 579.1,684.1 580.3,690.4 585.4,695.4 590.4,699.2 595.4,705.5 600.4,714.2 605.4,713.0 611.7,713.0 616.7,715.5 619.2,720.0" fill="none" stroke="#cdcdcd" stroke-width="1.3" stroke-linejoin="round"/>
<polyline points="351.3,106.6 353.7,109.4 354.5,114.9 352.9,118.8 349.0,120.4 348.2,124.3 343.9,124.8 342.7,131.3 341.4,137.6 342.7,143.9 338.0,146.2 335.6,148.6 332.5,147.0 328.6,150.2 325.5,156.4 323.1,162.7 323.9,169.0 326.2,175.2 331.7,181.5 334.1,184.6 339.6,185.4 337.2,188.6 339.6,190.1 344.3,194.8 345.8,198.7 343.6,204.2 344.9,209.7 345.0,215.2 347.4,214.1 347.7,206.6 347.6,200.6 349.7,201.9 350.5,208.2 352.9,215.2 356.8,225.4 363.1,234.8 370.9,244.2 375.6,245.5 378.7,253.6 384.2,259.1 391.3,266.9 399.1,273.2 401.5,277.1 399.1,279.5 403.8,278.7 410.1,277.9 417.9,282.6 426.6,287.3 432.8,293.6 438.8,299.0 440.4,301.3 435.7,302.1 432.5,303.7 436.5,305.3 438.8,310.0 440.4,304.5 445.1,303.7 449.0,302.1 451.3,299.0 452.9,301.3 452.9,307.6 457.6,315.5 463.1,322.5 467.0,327.2 462.3,331.1 456.8,335.0 452.9,339.0 455.3,342.1 456.8,351.5 459.2,360.1 462.3,364.0 461.5,366.4 467.0,371.9 473.3,381.3 479.6,390.7 483.5,400.1 484.3,403.2 490.5,409.5 498.4,418.1 505.4,425.2 514.0,431.4 526.6,440.1 542.3,451.8 553.3,458.8 559.6,463.5 561.9,469.0 561.9,474.5 565.9,480.0 570.6,486.2 573.7,489.4 576.1,491.7 583.9,499.6 593.3,507.4 602.7,515.2 610.5,520.7 619.9,527.0 629.3,534.0 635.6,539.5 641.9,542.7 640.3,548.2 643.4,548.2 647.4,556.8 651.3,552.9 657.6,560.7 663.8,568.5 668.5,573.2 674.0,574.8 667.7,574.8 668.5,584.2 673.2,587.3 677.9,588.1 681.1,591.3 684.2,588.9 688.1,586.6 688.9,578.7 692.8,580.3 696.7,582.6 700.7,585.0 704.6,581.1 706.9,581.8 708.5,587.3 710.8,592.0 714.0,596.7 720.3,599.9 732.0,600.7 728.1,603.8 723.4,608.5 721.8,612.4 726.1,611.3 735.5,611.3 740.2,609.8 746.4,610.6 752.7,612.9 753.5,615.3 749.6,617.6 743.3,619.2 738.6,621.5 737.0,627.0 740.2,633.3 744.9,639.6 751.1,645.8 759.0,652.1 759.7,655.2 762.1,653.7 765.2,655.2 766.8,664.6 771.5,672.5 777.8,680.3 785.6,691.3 793.4,703.8 798.2,710.1 806.0,710.9 806.8,714.0 802.9,714.8 798.2,717.1 799.7,721.8 802.9,723.4 806.0,721.1 808.3,716.4 810.7,717.9 812.3,724.2 816.2,728.1 820.9,731.3 822.4,735.2 821.7,741.4 824.8,738.3 828.7,737.5 827.9,735.2 826.4,730.5 827.1,726.6 830.3,725.0 831.8,730.5 832.6,735.2 837.3,739.9 838.9,746.1 842.8,750.1 845.2,752.4 849.9,753.2 846.7,756.3 843.6,758.7 842.8,764.2 840.5,767.3 835.8,768.1 837.3,770.4 841.3,770.4 842.8,774.4 843.9,775.7 845.4,785.1 847.8,793.7 852.5,805.5 857.2,817.2 854.8,818.8 858.7,820.3 863.4,827.4 869.7,835.2 872.1,841.5 871.3,845.4 869.7,844.6 870.5,854.0 871.3,858.0 868.2,860.3 868.2,863.4 870.5,861.9 874.4,871.3 877.6,877.6 878.3,888.5 880.7,894.8 885.4,901.1 888.5,905.8 889.3,913.6 887.7,916.0 890.1,921.4 894.8,929.3 890.9,928.5 886.2,926.1 884.6,923.8 887.0,923.0 890.1,925.4 890.1,930.1 894.8,937.1 897.9,945.0 898.7,954.4 899.9,963.5 905.4,969.0 906.2,988.6 899.1,990.2 895.2,987.0 892.9,991.7 893.6,999.6 896.0,1005.8 894.4,1012.1 900.7,1016.8 905.4,1017.6 903.8,1023.1 907.0,1027.0 906.2,1032.5 910.9,1034.8 908.5,1040.3 905.4,1044.2 901.5,1040.3 900.7,1034.0 896.8,1032.5 894.4,1034.8 894.4,1041.9 894.4,1046.6 899.1,1051.3 903.8,1052.9 905.4,1056.0 902.3,1059.1 899.1,1061.5 898.3,1065.4 902.3,1070.1 907.0,1068.5 907.0,1074.8 906.2,1084.2 910.1,1094.4 914.8,1099.9 921.1,1109.3 926.6,1117.1 930.5,1123.4 931.7,1132.0 931.4,1134.4" fill="none" stroke="#cdcdcd" stroke-width="1.4" stroke-linejoin="round"/>
<polyline points="805.7,104.7 805.7,106.6 806.5,108.6 804.1,111.8 801.0,114.1 798.6,118.8 799.4,123.5 797.8,127.4 802.5,128.2 804.9,129.0 805.7,132.9 806.5,136.8 808.0,137.6 804.9,137.6 801.8,140.8 797.1,145.5 798.6,153.3 800.2,159.6 801.0,164.3 802.5,167.4 802.5,173.7 800.2,180.0 797.8,185.4 799.4,189.4 804.1,194.1 807.2,200.3 809.6,208.2 809.6,219.2 807.2,228.6 805.7,232.5 807.2,238.0 810.4,240.3 818.2,241.1 826.1,243.5 832.3,247.4 838.6,251.3 846.4,254.4 851.1,257.6 855.9,260.7 862.1,261.2 873.1,261.5 878.6,263.1 879.4,267.8 881.7,272.5 884.1,274.0 888.8,271.7 899.8,270.9 915.4,271.7 926.4,274.0 932.7,277.2 936.6,279.5 935.0,283.4 931.1,287.4 936.6,285.8 941.3,281.9 946.0,278.7 944.4,284.2 946.0,288.1 946.8,292.1 953.8,291.3 953.1,288.1 956.3,283.4 964.1,280.3 967.2,286.6 970.4,285.8 974.3,279.5 971.2,277.2 972.0,272.5 973.5,266.2 975.1,256.8 979.8,255.2 986.1,255.5 989.2,259.1 995.5,255.2 1001.7,253.3 1009.6,253.3 1011.1,250.5 1015.1,249.7 1017.4,248.2 1019.0,250.5 1015.9,255.2 1011.1,256.8 1010.4,258.4 1015.9,259.1 1022.9,259.1 1023.7,254.4 1022.1,251.3 1024.5,250.5 1026.0,255.2 1027.6,250.5 1028.4,244.2 1025.3,241.1 1021.3,238.8 1025.3,239.5 1028.4,241.1 1030.7,234.8 1035.4,230.1 1044.1,223.9 1051.9,217.6 1058.2,213.7 1062.9,214.5 1067.6,212.1 1073.9,210.5 1078.6,208.2 1080.1,210.5 1081.7,212.9 1083.3,209.8 1084.8,205.0 1088.0,198.8 1091.1,196.4 1099.7,195.6 1098.2,189.4 1095.8,181.5 1094.2,180.0 1089.5,180.0 1088.0,184.7 1084.8,187.8 1084.1,190.9 1086.4,193.3 1091.1,194.1 1096.6,176.0 1095.8,169.0 1097.4,161.9 1100.5,156.4 1105.2,151.7 1106.0,145.5 1106.0,136.8 1102.9,141.5 1100.5,139.2 1097.4,140.8 1093.5,137.6 1090.3,135.3 1091.9,134.5 1096.6,137.6 1102.9,137.6 1106.8,135.3 1111.5,129.0 1114.6,122.0 1116.2,114.1 1118.5,111.8 1121.7,110.2 1122.5,107.1 1122.5,104.7" fill="none" stroke="#cdcdcd" stroke-width="1.4" stroke-linejoin="round"/>
<polygon points="429.5,354.9 434.6,355.6 443.6,356.4 447.5,358.5 452.3,360.1 453.9,362.7 457.1,364.9 461.9,365.5 453.9,365.5 449.1,365.9 448.1,369.4 444.3,367.5 444.9,363.6 447.5,361.4 439.4,359.8 431.4,357.2" fill="#000" stroke="#cdcdcd" stroke-width="1.2" stroke-linejoin="round"/>
<polygon points="611.7,532.7 616.6,531.7 624.3,535.3 632.3,538.8 635.5,541.0 642.5,542.5 642.2,543.6 637.1,543.0 633.2,543.9 630.7,543.3 629.4,541.0 624.3,539.4 617.8,536.2" fill="#000" stroke="#cdcdcd" stroke-width="1.2" stroke-linejoin="round"/>
<polygon points="572.5,492.0 570.0,493.7 564.6,496.3 563.8,498.2 567.8,498.4 572.1,497.5 572.3,495.0" fill="#000" stroke="#cdcdcd" stroke-width="1.2" stroke-linejoin="round"/>
<polygon points="1203.5,668.5 1206.5,667.5 1207,669.5 1204.5,670.3" fill="#1a1a1a" stroke="#cdcdcd" stroke-width="1.1"/>
</g>
<g stroke="#999" stroke-width="1.05" stroke-dasharray="4.5,1.466" clip-path="url(#mc)">
<line x1="226.50" y1="1133.70" x2="226.50" y2="106.50"/>
<line x1="384.50" y1="1133.70" x2="384.50" y2="106.50"/>
<line x1="542.50" y1="1133.70" x2="542.50" y2="106.50"/>
<line x1="700.50" y1="1133.70" x2="700.50" y2="106.50"/>
<line x1="858.50" y1="1133.70" x2="858.50" y2="106.50"/>
<line x1="1016.50" y1="1133.70" x2="1016.50" y2="106.50"/>
<line x1="1173.50" y1="1133.70" x2="1173.50" y2="106.50"/>
<line x1="147.09" y1="1109.50" x2="1252.50" y2="1109.50"/>
<line x1="147.09" y1="951.50" x2="1252.50" y2="951.50"/>
<line x1="147.09" y1="793.50" x2="1252.50" y2="793.50"/>
<line x1="147.09" y1="635.50" x2="1252.50" y2="635.50"/>
<line x1="147.09" y1="478.50" x2="1252.50" y2="478.50"/>
<line x1="147.09" y1="320.50" x2="1252.50" y2="320.50"/>
<line x1="147.09" y1="162.50" x2="1252.50" y2="162.50"/>
</g>
<g clip-path="url(#mc)" fill="none" stroke-linejoin="round" stroke-linecap="round">
<polyline points="779.0,573.0 725.0,655.0 652.5,697.7" stroke="rgba(18,205,215,0.8)" stroke-width="1.4"/>
<polyline points="779.0,573.0 742.0,652.0 668.5,697.7" stroke="rgba(18,205,215,0.8)" stroke-width="1.4"/>
<polyline points="779.0,573.0 728.0,640.0 652.8,681.7" stroke="rgba(18,205,215,0.8)" stroke-width="1.4"/>
<polyline points="779.0,573.0 705.0,648.0 652.5,666.4" stroke="rgba(18,205,215,0.8)" stroke-width="1.4"/>
<polyline points="779.0,573.0 748.0,662.0 700.2,682.1" stroke="rgba(18,205,215,0.8)" stroke-width="1.4"/>
<polyline points="779.0,573.0 762.0,645.0 668.2,681.7" stroke="rgba(18,205,215,0.8)" stroke-width="1.4"/>
<polyline points="776.0,574.0 768.0,612.0 766.0,635.3 683.9,635.3 672.0,660.0 652.8,681.7" stroke="rgba(18,205,215,0.8)" stroke-width="1.4"/>
<polyline points="779.0,573.0 735.0,610.0 682.6,625.0 675.0,643.8 660.0,665.0 652.8,681.7" stroke="rgba(18,205,215,0.8)" stroke-width="1.4"/>
<polyline points="779.0,573.0 712.0,628.0 683.0,618.0 621.0,618.0" stroke="rgba(18,205,215,0.8)" stroke-width="1.4"/>
<polyline points="779.0,573.0 730.0,640.0 680.0,650.0 622.0,636.0 604.5,697.7" stroke="rgba(18,205,215,0.8)" stroke-width="1.4"/>
<polyline points="779.0,573.0 764.0,650.0 700.0,672.0 668.5,697.7" stroke="rgba(18,205,215,0.8)" stroke-width="1.4"/>
<polyline points="779.0,573.0 757.0,660.0 690.0,690.0 652.5,697.7" stroke="rgba(18,205,215,0.8)" stroke-width="1.4"/>
<polyline points="654.4,635.7 660.0,665.0 668.5,697.7" stroke="rgba(18,205,215,0.8)" stroke-width="1.4"/>
<polyline points="779.0,573.0 772.0,640.0 725.0,665.0 668.2,681.7" stroke="rgba(18,205,215,0.8)" stroke-width="1.4"/>
<polyline points="762.1,572.2 748,666.3" stroke="#10c8f0" stroke-width="2.6"/>
<polyline points="748,666.3 636.4,634.2 257.8,650.5 147.6,705.9 130,714.8" stroke="#10ffff" stroke-width="3.2"/>
<polyline points="779.4,572.5 668.5,667.1 686.3,651.3 621.2,651.3" stroke="#fff" stroke-width="5"/>
</g>
<circle cx="779.4" cy="572.5" r="3.6" fill="#fff" stroke="#000" stroke-width="1"/>
<circle cx="621.2" cy="651.3" r="3.6" fill="#fff" stroke="#000" stroke-width="1"/>
<text x="740" y="623.5" text-anchor="middle" textLength="33" lengthAdjust="spacingAndGlyphs" style='font-family:"Liberation Sans",sans-serif;font-size:12.5px' fill="#b0b0b0">Da Nang</text>
<text x="610.2" y="590.7" text-anchor="middle" textLength="29.5" lengthAdjust="spacingAndGlyphs" style='font-family:"Liberation Sans",sans-serif;font-weight:bold;font-size:12.6px' fill="#000" stroke="#000" stroke-width="2.7" stroke-linejoin="round">Oct 23</text>
<text x="610.2" y="590.7" text-anchor="middle" textLength="29.5" lengthAdjust="spacingAndGlyphs" style='font-family:"Liberation Sans",sans-serif;font-weight:bold;font-size:12.6px' fill="#fff" stroke="#fff" stroke-width="0.50" stroke-linejoin="round">Oct 23</text>
<text x="610.0" y="604.8" text-anchor="middle" textLength="32.5" lengthAdjust="spacingAndGlyphs" style='font-family:"Liberation Sans",sans-serif;font-weight:bold;font-size:12.6px' fill="#000" stroke="#000" stroke-width="2.7" stroke-linejoin="round">1011mb</text>
<text x="610.0" y="604.8" text-anchor="middle" textLength="32.5" lengthAdjust="spacingAndGlyphs" style='font-family:"Liberation Sans",sans-serif;font-weight:bold;font-size:12.6px' fill="#fff" stroke="#fff" stroke-width="0.50" stroke-linejoin="round">1011mb</text>
<text x="778.6" y="516.7" text-anchor="middle" textLength="29.5" lengthAdjust="spacingAndGlyphs" style='font-family:"Liberation Sans",sans-serif;font-weight:bold;font-size:13.0px' fill="#000" stroke="#000" stroke-width="2.7" stroke-linejoin="round">Oct 22</text>
<text x="778.6" y="516.7" text-anchor="middle" textLength="29.5" lengthAdjust="spacingAndGlyphs" style='font-family:"Liberation Sans",sans-serif;font-weight:bold;font-size:13.0px' fill="#fff" stroke="#fff" stroke-width="0.50" stroke-linejoin="round">Oct 22</text>
<text x="778.5" y="530.6" text-anchor="middle" textLength="36.0" lengthAdjust="spacingAndGlyphs" style='font-family:"Liberation Sans",sans-serif;font-weight:bold;font-size:13.0px' fill="#000" stroke="#000" stroke-width="2.7" stroke-linejoin="round">1000mb</text>
<text x="778.5" y="530.6" text-anchor="middle" textLength="36.0" lengthAdjust="spacingAndGlyphs" style='font-family:"Liberation Sans",sans-serif;font-weight:bold;font-size:13.0px' fill="#fff" stroke="#fff" stroke-width="0.50" stroke-linejoin="round">1000mb</text>
<text x="630.8" y="618.2" text-anchor="start" textLength="36.6" lengthAdjust="spacingAndGlyphs" style='font-family:"Liberation Sans",sans-serif;font-weight:bold;font-size:18.2px' fill="#000" stroke="#000" stroke-width="3.0" stroke-linejoin="round">CTMN</text>
<text x="630.8" y="618.2" text-anchor="start" textLength="36.6" lengthAdjust="spacingAndGlyphs" style='font-family:"Liberation Sans",sans-serif;font-weight:bold;font-size:18.2px' fill="#fff" stroke="#fff" stroke-width="0.80" stroke-linejoin="round">CTMN</text>
<text x="132.77" y="677.25" textLength="32.09" lengthAdjust="spacingAndGlyphs" style='font-family:"Liberation Sans",sans-serif;font-kerning:none;font-weight:bold;font-size:18.46px' fill="#fff" stroke="#fff" stroke-width="0.50">CTCX</text>
<rect x="147.5" y="106.5" width="1105.0" height="1027.0" fill="none" stroke="#fff" stroke-width="1.1"/>
<rect x="1252.5" y="106.5" width="21" height="1027" fill="url(#cb)" stroke="#fff" stroke-width="1.1"/>
<line x1="1273.5" y1="106.5" x2="1279" y2="106.5" stroke="#fff" stroke-width="1"/>
<text x="1281.57" y="114.90" textLength="36.07" lengthAdjust="spacingAndGlyphs" style='font-family:"Liberation Sans",sans-serif;font-kerning:none;font-size:23.98px' fill="#e6e6e6">1020</text>
<line x1="1273.5" y1="311.5" x2="1279" y2="311.5" stroke="#fff" stroke-width="1"/>
<text x="1281.57" y="320.30" textLength="36.07" lengthAdjust="spacingAndGlyphs" style='font-family:"Liberation Sans",sans-serif;font-kerning:none;font-size:23.98px' fill="#e6e6e6">1000</text>
<line x1="1273.5" y1="517.5" x2="1279" y2="517.5" stroke="#fff" stroke-width="1"/>
<text x="1283.44" y="525.70" textLength="27.05" lengthAdjust="spacingAndGlyphs" style='font-family:"Liberation Sans",sans-serif;font-kerning:none;font-size:23.98px' fill="#e6e6e6">980</text>
<line x1="1273.5" y1="722.5" x2="1279" y2="722.5" stroke="#fff" stroke-width="1"/>
<text x="1283.44" y="731.10" textLength="27.05" lengthAdjust="spacingAndGlyphs" style='font-family:"Liberation Sans",sans-serif;font-kerning:none;font-size:23.98px' fill="#e6e6e6">960</text>
<line x1="1273.5" y1="928.5" x2="1279" y2="928.5" stroke="#fff" stroke-width="1"/>
<text x="1283.44" y="936.50" textLength="27.05" lengthAdjust="spacingAndGlyphs" style='font-family:"Liberation Sans",sans-serif;font-kerning:none;font-size:23.98px' fill="#e6e6e6">940</text>
<line x1="1273.5" y1="1133.5" x2="1279" y2="1133.5" stroke="#fff" stroke-width="1"/>
<text x="1283.44" y="1141.90" textLength="27.05" lengthAdjust="spacingAndGlyphs" style='font-family:"Liberation Sans",sans-serif;font-kerning:none;font-size:23.98px' fill="#e6e6e6">920</text>
<text transform="translate(1340,669.5) rotate(-90)" x="-1.30" y="0" textLength="100.18" lengthAdjust="spacingAndGlyphs" style='font-family:"Liberation Sans",sans-serif;font-kerning:none;font-size:23.84px' fill="#fff" stroke="#fff" stroke-width="0.25">Pressure (mb)</text>
<text x="92.58" y="1116.80" textLength="47.45" lengthAdjust="spacingAndGlyphs" style='font-family:"Liberation Sans",sans-serif;font-kerning:none;font-size:31.69px' fill="#e6e6e6">13°N</text>
<text x="92.58" y="958.80" textLength="47.45" lengthAdjust="spacingAndGlyphs" style='font-family:"Liberation Sans",sans-serif;font-kerning:none;font-size:31.69px' fill="#e6e6e6">14°N</text>
<text x="92.58" y="800.80" textLength="47.45" lengthAdjust="spacingAndGlyphs" style='font-family:"Liberation Sans",sans-serif;font-kerning:none;font-size:31.69px' fill="#e6e6e6">15°N</text>
<text x="92.58" y="642.80" textLength="47.45" lengthAdjust="spacingAndGlyphs" style='font-family:"Liberation Sans",sans-serif;font-kerning:none;font-size:31.69px' fill="#e6e6e6">16°N</text>
<text x="92.58" y="485.80" textLength="47.45" lengthAdjust="spacingAndGlyphs" style='font-family:"Liberation Sans",sans-serif;font-kerning:none;font-size:31.69px' fill="#e6e6e6">17°N</text>
<text x="92.58" y="327.80" textLength="47.45" lengthAdjust="spacingAndGlyphs" style='font-family:"Liberation Sans",sans-serif;font-kerning:none;font-size:31.69px' fill="#e6e6e6">18°N</text>
<text x="92.58" y="169.80" textLength="47.45" lengthAdjust="spacingAndGlyphs" style='font-family:"Liberation Sans",sans-serif;font-kerning:none;font-size:31.69px' fill="#e6e6e6">19°N</text>
<text x="196.47" y="1162" textLength="58.55" lengthAdjust="spacingAndGlyphs" style='font-family:"Liberation Sans",sans-serif;font-kerning:none;font-size:31.54px' fill="#e6e6e6">105°E</text>
<text x="354.47" y="1162" textLength="58.55" lengthAdjust="spacingAndGlyphs" style='font-family:"Liberation Sans",sans-serif;font-kerning:none;font-size:31.54px' fill="#e6e6e6">106°E</text>
<text x="512.47" y="1162" textLength="58.55" lengthAdjust="spacingAndGlyphs" style='font-family:"Liberation Sans",sans-serif;font-kerning:none;font-size:31.54px' fill="#e6e6e6">107°E</text>
<text x="670.47" y="1162" textLength="58.55" lengthAdjust="spacingAndGlyphs" style='font-family:"Liberation Sans",sans-serif;font-kerning:none;font-size:31.54px' fill="#e6e6e6">108°E</text>
<text x="828.47" y="1162" textLength="58.55" lengthAdjust="spacingAndGlyphs" style='font-family:"Liberation Sans",sans-serif;font-kerning:none;font-size:31.54px' fill="#e6e6e6">109°E</text>
<text x="986.47" y="1162" textLength="58.55" lengthAdjust="spacingAndGlyphs" style='font-family:"Liberation Sans",sans-serif;font-kerning:none;font-size:31.54px' fill="#e6e6e6">110°E</text>
<text x="1143.47" y="1162" textLength="58.55" lengthAdjust="spacingAndGlyphs" style='font-family:"Liberation Sans",sans-serif;font-kerning:none;font-size:31.54px' fill="#e6e6e6">111°E</text>
<text x="148.45" y="57.83" textLength="136.73" lengthAdjust="spacingAndGlyphs" style='font-family:"Liberation Sans",sans-serif;font-kerning:none;font-weight:normal;font-size:39.61px' fill="#fff" stroke="#fff" stroke-width="0.75">WP302025</text>
<text x="292.61" y="57.83" textLength="139.60" lengthAdjust="spacingAndGlyphs" style='font-family:"Liberation Sans",sans-serif;font-kerning:none;font-weight:normal;font-size:39.61px' fill="#fff" stroke="#fff" stroke-width="0.75">FENGSHEN:</text>
<text x="436.10" y="57.83" textLength="63.22" lengthAdjust="spacingAndGlyphs" style='font-family:"Liberation Sans",sans-serif;font-kerning:none;font-weight:normal;font-size:39.61px' fill="#fff" stroke="#fff" stroke-width="0.75">CTCX</text>
<text x="507.29" y="57.83" textLength="113.27" lengthAdjust="spacingAndGlyphs" style='font-family:"Liberation Sans",sans-serif;font-kerning:none;font-weight:normal;font-size:39.61px' fill="#fff" stroke="#fff" stroke-width="0.75">Ensemble</text>
<text x="628.74" y="57.83" textLength="101.07" lengthAdjust="spacingAndGlyphs" style='font-family:"Liberation Sans",sans-serif;font-kerning:none;font-weight:normal;font-size:39.61px' fill="#fff" stroke="#fff" stroke-width="0.75">Forecast</text>
<text x="737.74" y="57.83" textLength="24.19" lengthAdjust="spacingAndGlyphs" style='font-family:"Liberation Sans",sans-serif;font-kerning:none;font-weight:normal;font-size:39.61px' fill="#fff" stroke="#fff" stroke-width="0.75">at</text>
<text x="770.45" y="57.83" textLength="62.17" lengthAdjust="spacingAndGlyphs" style='font-family:"Liberation Sans",sans-serif;font-kerning:none;font-weight:normal;font-size:39.61px' fill="#fff" stroke="#fff" stroke-width="0.75">1800</text>
<text x="840.32" y="57.83" textLength="49.53" lengthAdjust="spacingAndGlyphs" style='font-family:"Liberation Sans",sans-serif;font-kerning:none;font-weight:normal;font-size:39.61px' fill="#fff" stroke="#fff" stroke-width="0.75">UTC</text>
<text x="897.76" y="57.83" textLength="31.28" lengthAdjust="spacingAndGlyphs" style='font-family:"Liberation Sans",sans-serif;font-kerning:none;font-weight:normal;font-size:39.61px' fill="#fff" stroke="#fff" stroke-width="0.75">22</text>
<text x="937.29" y="57.83" textLength="48.36" lengthAdjust="spacingAndGlyphs" style='font-family:"Liberation Sans",sans-serif;font-kerning:none;font-weight:normal;font-size:39.61px' fill="#fff" stroke="#fff" stroke-width="0.75">OCT</text>
<text x="994.41" y="57.83" textLength="64.94" lengthAdjust="spacingAndGlyphs" style='font-family:"Liberation Sans",sans-serif;font-kerning:none;font-weight:normal;font-size:39.61px' fill="#fff" stroke="#fff" stroke-width="0.75">2025</text>
<text x="147.18" y="97.33" textLength="48.23" lengthAdjust="spacingAndGlyphs" style='font-family:"Liberation Sans",sans-serif;font-kerning:none;font-weight:normal;font-size:38.88px' fill="#fff" stroke="#fff" stroke-width="0.75">Last</text>
<text x="204.22" y="97.33" textLength="108.14" lengthAdjust="spacingAndGlyphs" style='font-family:"Liberation Sans",sans-serif;font-kerning:none;font-weight:normal;font-size:38.88px' fill="#fff" stroke="#fff" stroke-width="0.75">Updated:</text>
<text x="317.17" y="97.33" textLength="61.57" lengthAdjust="spacingAndGlyphs" style='font-family:"Liberation Sans",sans-serif;font-kerning:none;font-weight:normal;font-size:38.88px' fill="#fff" stroke="#fff" stroke-width="0.75">1243</text>
<text x="386.55" y="97.33" textLength="48.68" lengthAdjust="spacingAndGlyphs" style='font-family:"Liberation Sans",sans-serif;font-kerning:none;font-weight:normal;font-size:38.88px' fill="#fff" stroke="#fff" stroke-width="0.75">UTC</text>
<text x="443.43" y="97.33" textLength="31.85" lengthAdjust="spacingAndGlyphs" style='font-family:"Liberation Sans",sans-serif;font-kerning:none;font-weight:normal;font-size:38.88px' fill="#fff" stroke="#fff" stroke-width="0.75">23</text>
<text x="483.08" y="97.33" textLength="48.88" lengthAdjust="spacingAndGlyphs" style='font-family:"Liberation Sans",sans-serif;font-kerning:none;font-weight:normal;font-size:38.88px' fill="#fff" stroke="#fff" stroke-width="0.75">OCT</text>
<text x="539.20" y="97.33" textLength="65.36" lengthAdjust="spacingAndGlyphs" style='font-family:"Liberation Sans",sans-serif;font-kerning:none;font-weight:normal;font-size:38.88px' fill="#fff" stroke="#fff" stroke-width="0.75">2025</text>
<text x="1067.81" y="98.25" textLength="16.10" lengthAdjust="spacingAndGlyphs" style='font-family:"Liberation Sans",sans-serif;font-kerning:none;font-weight:bold;font-size:34.45px' fill="#fff" stroke="#fff" stroke-width="1.20">K</text>
<text x="1084.49" y="98.25" textLength="15.23" lengthAdjust="spacingAndGlyphs" style='font-family:"Liberation Sans",sans-serif;font-kerning:none;font-weight:bold;font-size:34.45px' fill="#fff" stroke="#fff" stroke-width="1.20">N</text>
<text x="1100.95" y="98.25" textLength="15.82" lengthAdjust="spacingAndGlyphs" style='font-family:"Liberation Sans",sans-serif;font-kerning:none;font-weight:bold;font-size:34.45px' fill="#fff" stroke="#fff" stroke-width="1.20">A</text>
<text x="1118.98" y="98.25" textLength="14.36" lengthAdjust="spacingAndGlyphs" style='font-family:"Liberation Sans",sans-serif;font-kerning:none;font-weight:bold;font-size:34.45px' fill="#fff" stroke="#fff" stroke-width="1.20">C</text>
<text x="1134.51" y="98.25" textLength="17.22" lengthAdjust="spacingAndGlyphs" style='font-family:"Liberation Sans",sans-serif;font-kerning:none;font-weight:bold;font-size:34.45px' fill="#fff" stroke="#fff" stroke-width="1.20">K</text>
<text x="1153.28" y="98.25" textLength="18.74" lengthAdjust="spacingAndGlyphs" style='font-family:"Liberation Sans",sans-serif;font-kerning:none;font-weight:bold;font-size:34.45px' fill="#fff" stroke="#fff" stroke-width="1.20">W</text>
<text x="1173.71" y="98.25" textLength="14.38" lengthAdjust="spacingAndGlyphs" style='font-family:"Liberation Sans",sans-serif;font-kerning:none;font-weight:bold;font-size:34.45px' fill="#fff" stroke="#fff" stroke-width="1.20">X</text>
<text x="1189.26" y="98.25" textLength="6.69" lengthAdjust="spacingAndGlyphs" style='font-family:"Liberation Sans",sans-serif;font-kerning:none;font-weight:bold;font-size:34.45px' fill="#fff" stroke="#fff" stroke-width="1.20">.</text>
<text x="1197.53" y="98.25" textLength="15.24" lengthAdjust="spacingAndGlyphs" style='font-family:"Liberation Sans",sans-serif;font-kerning:none;font-weight:bold;font-size:34.45px' fill="#fff" stroke="#fff" stroke-width="1.20">C</text>
<text x="1214.67" y="98.25" textLength="15.78" lengthAdjust="spacingAndGlyphs" style='font-family:"Liberation Sans",sans-serif;font-kerning:none;font-weight:bold;font-size:34.45px' fill="#fff" stroke="#fff" stroke-width="1.20">O</text>
<text x="1232.07" y="98.25" textLength="20.25" lengthAdjust="spacingAndGlyphs" style='font-family:"Liberation Sans",sans-serif;font-kerning:none;font-weight:bold;font-size:34.45px' fill="#fff" stroke="#fff" stroke-width="1.20">M</text>
<line x1="66.0" y1="1207.0" x2="101.7" y2="1207.0" stroke="#04668c" stroke-width="1.5"/>
<text x="114.30" y="1212.50" textLength="40.39" lengthAdjust="spacingAndGlyphs" style='font-family:"Liberation Sans",sans-serif;font-kerning:none;font-weight:bold;font-size:18.90px' fill="#0cb8f0" stroke="#0cb8f0" stroke-width="0.20">CT00:</text>
<text x="156.17" y="1212.50" textLength="54.73" lengthAdjust="spacingAndGlyphs" style='font-family:"Liberation Sans",sans-serif;font-kerning:none;font-weight:bold;font-size:18.90px' fill="#0cb8f0" stroke="#0cb8f0" stroke-width="0.20">1000mb</text>
<line x1="226.0" y1="1207.0" x2="261.7" y2="1207.0" stroke="#04668c" stroke-width="1.5"/>
<text x="274.30" y="1212.50" textLength="40.39" lengthAdjust="spacingAndGlyphs" style='font-family:"Liberation Sans",sans-serif;font-kerning:none;font-weight:bold;font-size:18.90px' fill="#0cb8f0" stroke="#0cb8f0" stroke-width="0.20">CT02:</text>
<text x="316.17" y="1212.50" textLength="54.73" lengthAdjust="spacingAndGlyphs" style='font-family:"Liberation Sans",sans-serif;font-kerning:none;font-weight:bold;font-size:18.90px' fill="#0cb8f0" stroke="#0cb8f0" stroke-width="0.20">1000mb</text>
<line x1="386.0" y1="1207.0" x2="421.7" y2="1207.0" stroke="#04668c" stroke-width="1.5"/>
<text x="434.30" y="1212.50" textLength="40.39" lengthAdjust="spacingAndGlyphs" style='font-family:"Liberation Sans",sans-serif;font-kerning:none;font-weight:bold;font-size:18.90px' fill="#0cb8f0" stroke="#0cb8f0" stroke-width="0.20">CT04:</text>
<text x="476.17" y="1212.50" textLength="54.73" lengthAdjust="spacingAndGlyphs" style='font-family:"Liberation Sans",sans-serif;font-kerning:none;font-weight:bold;font-size:18.90px' fill="#0cb8f0" stroke="#0cb8f0" stroke-width="0.20">1000mb</text>
<line x1="546.0" y1="1207.0" x2="581.7" y2="1207.0" stroke="#04668c" stroke-width="1.5"/>
<text x="594.30" y="1212.50" textLength="40.39" lengthAdjust="spacingAndGlyphs" style='font-family:"Liberation Sans",sans-serif;font-kerning:none;font-weight:bold;font-size:18.90px' fill="#0cb8f0" stroke="#0cb8f0" stroke-width="0.20">CT06:</text>
<text x="636.17" y="1212.50" textLength="54.73" lengthAdjust="spacingAndGlyphs" style='font-family:"Liberation Sans",sans-serif;font-kerning:none;font-weight:bold;font-size:18.90px' fill="#0cb8f0" stroke="#0cb8f0" stroke-width="0.20">1000mb</text>
<line x1="706.0" y1="1207.0" x2="741.7" y2="1207.0" stroke="#04668c" stroke-width="1.5"/>
<text x="754.30" y="1212.50" textLength="40.39" lengthAdjust="spacingAndGlyphs" style='font-family:"Liberation Sans",sans-serif;font-kerning:none;font-weight:bold;font-size:18.90px' fill="#0cb8f0" stroke="#0cb8f0" stroke-width="0.20">CT08:</text>
<text x="796.17" y="1212.50" textLength="54.73" lengthAdjust="spacingAndGlyphs" style='font-family:"Liberation Sans",sans-serif;font-kerning:none;font-weight:bold;font-size:18.90px' fill="#0cb8f0" stroke="#0cb8f0" stroke-width="0.20">1000mb</text>
<line x1="866.0" y1="1207.0" x2="901.7" y2="1207.0" stroke="#04668c" stroke-width="1.5"/>
<text x="914.36" y="1212.50" textLength="36.61" lengthAdjust="spacingAndGlyphs" style='font-family:"Liberation Sans",sans-serif;font-kerning:none;font-weight:bold;font-size:18.90px' fill="#0cb8f0" stroke="#0cb8f0" stroke-width="0.20">CT10:</text>
<text x="952.57" y="1212.50" textLength="54.73" lengthAdjust="spacingAndGlyphs" style='font-family:"Liberation Sans",sans-serif;font-kerning:none;font-weight:bold;font-size:18.90px' fill="#0cb8f0" stroke="#0cb8f0" stroke-width="0.20">1000mb</text>
<line x1="1024.1" y1="1207.2" x2="1060.6" y2="1207.2" stroke="#10b4f0" stroke-width="3"/>
<text x="1071.96" y="1212.50" textLength="40.42" lengthAdjust="spacingAndGlyphs" style='font-family:"Liberation Sans",sans-serif;font-kerning:none;font-weight:bold;font-size:18.90px' fill="#10b4f0" stroke="#10b4f0" stroke-width="0.20">CTCX:</text>
<text x="1113.97" y="1212.50" textLength="54.73" lengthAdjust="spacingAndGlyphs" style='font-family:"Liberation Sans",sans-serif;font-kerning:none;font-weight:bold;font-size:18.90px' fill="#10b4f0" stroke="#10b4f0" stroke-width="0.20">1000mb</text>
<line x1="1184.2" y1="1207.2" x2="1221.9" y2="1207.2" stroke="#fff" stroke-width="5"/>
<text x="1231.95" y="1212.50" textLength="43.45" lengthAdjust="spacingAndGlyphs" style='font-family:"Liberation Sans",sans-serif;font-kerning:none;font-weight:bold;font-size:18.90px' fill="#fff" stroke="#fff" stroke-width="0.20">CTMN:</text>
<text x="1276.97" y="1212.50" textLength="54.73" lengthAdjust="spacingAndGlyphs" style='font-family:"Liberation Sans",sans-serif;font-kerning:none;font-weight:bold;font-size:18.90px' fill="#fff" stroke="#fff" stroke-width="0.20">1000mb</text>
<line x1="66.0" y1="1232.7" x2="101.7" y2="1232.7" stroke="#04668c" stroke-width="1.5"/>
<text x="114.35" y="1238.50" textLength="37.13" lengthAdjust="spacingAndGlyphs" style='font-family:"Liberation Sans",sans-serif;font-kerning:none;font-weight:bold;font-size:18.90px' fill="#0cb8f0" stroke="#0cb8f0" stroke-width="0.20">CT01:</text>
<text x="153.07" y="1238.50" textLength="54.73" lengthAdjust="spacingAndGlyphs" style='font-family:"Liberation Sans",sans-serif;font-kerning:none;font-weight:bold;font-size:18.90px' fill="#0cb8f0" stroke="#0cb8f0" stroke-width="0.20">1000mb</text>
<line x1="226.0" y1="1232.7" x2="261.7" y2="1232.7" stroke="#04668c" stroke-width="1.5"/>
<text x="274.30" y="1238.50" textLength="40.39" lengthAdjust="spacingAndGlyphs" style='font-family:"Liberation Sans",sans-serif;font-kerning:none;font-weight:bold;font-size:18.90px' fill="#0cb8f0" stroke="#0cb8f0" stroke-width="0.20">CT03:</text>
<text x="316.17" y="1238.50" textLength="54.73" lengthAdjust="spacingAndGlyphs" style='font-family:"Liberation Sans",sans-serif;font-kerning:none;font-weight:bold;font-size:18.90px' fill="#0cb8f0" stroke="#0cb8f0" stroke-width="0.20">1000mb</text>
<line x1="386.0" y1="1232.7" x2="421.7" y2="1232.7" stroke="#04668c" stroke-width="1.5"/>
<text x="434.30" y="1238.50" textLength="40.39" lengthAdjust="spacingAndGlyphs" style='font-family:"Liberation Sans",sans-serif;font-kerning:none;font-weight:bold;font-size:18.90px' fill="#0cb8f0" stroke="#0cb8f0" stroke-width="0.20">CT05:</text>
<text x="476.17" y="1238.50" textLength="54.73" lengthAdjust="spacingAndGlyphs" style='font-family:"Liberation Sans",sans-serif;font-kerning:none;font-weight:bold;font-size:18.90px' fill="#0cb8f0" stroke="#0cb8f0" stroke-width="0.20">1000mb</text>
<line x1="546.0" y1="1232.7" x2="581.7" y2="1232.7" stroke="#04668c" stroke-width="1.5"/>
<text x="594.34" y="1238.50" textLength="37.87" lengthAdjust="spacingAndGlyphs" style='font-family:"Liberation Sans",sans-serif;font-kerning:none;font-weight:bold;font-size:18.90px' fill="#0cb8f0" stroke="#0cb8f0" stroke-width="0.20">CT07:</text>
<text x="633.77" y="1238.50" textLength="54.73" lengthAdjust="spacingAndGlyphs" style='font-family:"Liberation Sans",sans-serif;font-kerning:none;font-weight:bold;font-size:18.90px' fill="#0cb8f0" stroke="#0cb8f0" stroke-width="0.20">1000mb</text>
<line x1="706.0" y1="1232.7" x2="741.7" y2="1232.7" stroke="#04668c" stroke-width="1.5"/>
<text x="754.30" y="1238.50" textLength="40.39" lengthAdjust="spacingAndGlyphs" style='font-family:"Liberation Sans",sans-serif;font-kerning:none;font-weight:bold;font-size:18.90px' fill="#0cb8f0" stroke="#0cb8f0" stroke-width="0.20">CT09:</text>
<text x="796.17" y="1238.50" textLength="54.73" lengthAdjust="spacingAndGlyphs" style='font-family:"Liberation Sans",sans-serif;font-kerning:none;font-weight:bold;font-size:18.90px' fill="#0cb8f0" stroke="#0cb8f0" stroke-width="0.20">1000mb</text>
</svg></body></html>
